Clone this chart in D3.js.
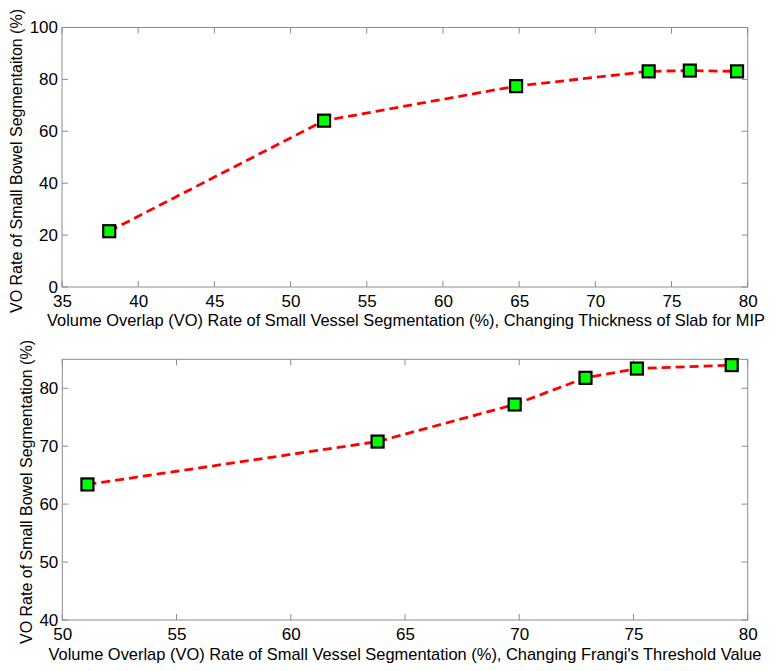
<!DOCTYPE html>
<html><head><meta charset="utf-8">
<script src="https://cdn.jsdelivr.net/npm/d3@7"></script>
<style>body{margin:0;background:#fff}svg{display:block}</style>
</head><body><svg id="c" width="776" height="671"></svg>
<script>
// Top panel: changing thickness of slab for MIP
const topX = [38.1, 52.2, 64.8, 73.5, 76.2, 79.3];
const topY = [21.5, 64.1, 77.4, 83.1, 83.4, 83.1];
const topXTicks = [35, 40, 45, 50, 55, 60, 65, 70, 75, 80];
const topYTicks = [0, 20, 40, 60, 80, 100];
const topXLabel = "Volume Overlap (VO) Rate of Small Vessel Segmentation (%), Changing Thickness of Slab for MIP";
const topYLabel = "VO Rate of Small Bowel Segmentaiton (%)";

// Bottom panel: changing Frangi's threshold value
const botX = [51.1, 63.8, 69.8, 72.9, 75.15, 79.3];
const botY = [63.4, 70.8, 77.2, 81.8, 83.4, 84.0];
const botXTicks = [50, 55, 60, 65, 70, 75, 80];
const botYTicks = [40, 50, 60, 70, 80];
const botXLabel = "Volume Overlap (VO) Rate of Small Vessel Segmentation (%), Changing Frangi's Threshold Value";
const botYLabel = "VO Rate of Small Bowel Segmentation (%)";

const svg = d3.select("#c");
const FONT = "'Liberation Sans', Arial, Helvetica, sans-serif";

function panel(cfg) {
  const x = d3.scaleLinear().domain(cfg.xDom).range([cfg.left, cfg.right]);
  const y = d3.scaleLinear().domain(cfg.yDom).range([cfg.bottom, cfg.top]);
  const g = svg.append("g");
  const axCol = "#8c8c8c";
  const tl = 6;
  g.append("rect").attr("x", cfg.left).attr("y", cfg.top)
    .attr("width", cfg.right - cfg.left).attr("height", cfg.bottom - cfg.top)
    .attr("fill", "none").attr("stroke", axCol).attr("stroke-width", 1);
  const ax = d3.axisBottom(x).tickValues(cfg.xTicks).tickSize(0).tickPadding(0).tickFormat(d3.format("d"));
  const gx = g.append("g").attr("transform", `translate(0,${cfg.bottom})`).call(ax);
  gx.select(".domain").remove();
  gx.selectAll("text").attr("font-family", FONT).attr("font-size", 17).attr("fill", "#000")
    .attr("dy", null).attr("y", 20);
  cfg.xTicks.forEach(v => {
    g.append("line").attr("x1", x(v)).attr("x2", x(v)).attr("y1", cfg.bottom).attr("y2", cfg.bottom - tl).attr("stroke", axCol);
    g.append("line").attr("x1", x(v)).attr("x2", x(v)).attr("y1", cfg.top).attr("y2", cfg.top + tl).attr("stroke", axCol);
  });
  const ay = d3.axisLeft(y).tickValues(cfg.yTicks).tickSize(0).tickPadding(0).tickFormat(d3.format("d"));
  const gy = g.append("g").attr("transform", `translate(${cfg.left - 4},0)`).call(ay);
  gy.select(".domain").remove();
  gy.selectAll("text").attr("font-family", FONT).attr("font-size", 17).attr("fill", "#000");
  cfg.yTicks.forEach(v => {
    g.append("line").attr("y1", y(v)).attr("y2", y(v)).attr("x1", cfg.left).attr("x2", cfg.left + tl).attr("stroke", axCol);
    g.append("line").attr("y1", y(v)).attr("y2", y(v)).attr("x1", cfg.right).attr("x2", cfg.right - tl).attr("stroke", axCol);
  });
  g.append("text").text(cfg.xLabel).attr("x", cfg.xlx).attr("y", cfg.xly)
    .attr("text-anchor", "middle").attr("font-family", FONT).attr("font-size", 17)
    .attr("textLength", cfg.xlLen).attr("lengthAdjust", "spacingAndGlyphs");
  g.append("text").text(cfg.yLabel)
    .attr("transform", `translate(${cfg.ylx},${cfg.yly}) rotate(-90)`)
    .attr("text-anchor", "middle").attr("font-family", FONT).attr("font-size", 17)
    .attr("textLength", cfg.ylLen).attr("lengthAdjust", "spacingAndGlyphs");
  const pts = cfg.xs.map((d, i) => [d, cfg.ys[i]]);
  g.append("path").datum(pts)
    .attr("d", d3.line().x(d => x(d[0])).y(d => y(d[1])))
    .attr("fill", "none").attr("stroke", "#ff0000").attr("stroke-width", 2.8)
    .attr("stroke-dasharray", "9,5");
  const s = 12;
  g.selectAll("rect.m").data(pts).join("rect").attr("class", "m")
    .attr("x", d => x(d[0]) - s / 2).attr("y", d => y(d[1]) - s / 2)
    .attr("width", s).attr("height", s)
    .attr("fill", "#00ff00").attr("stroke", "#000").attr("stroke-width", 2.2);
}

panel({xDom: [35, 80], yDom: [0, 100], left: 62, right: 747.7, top: 27.5, bottom: 287,
  xTicks: topXTicks, yTicks: topYTicks, xs: topX, ys: topY,
  xLabel: topXLabel, yLabel: topYLabel, xlx: 406, xly: 326, xlLen: 718,
  ylx: 22, yly: 161, ylLen: 304});
panel({xDom: [50, 80], yDom: [40, 85], left: 62.3, right: 747.7, top: 359.3, bottom: 620,
  xTicks: botXTicks, yTicks: botYTicks, xs: botX, ys: botY,
  xLabel: botXLabel, yLabel: botYLabel, xlx: 405, xly: 660, xlLen: 713,
  ylx: 32, yly: 492, ylLen: 304});
</script></body></html>
